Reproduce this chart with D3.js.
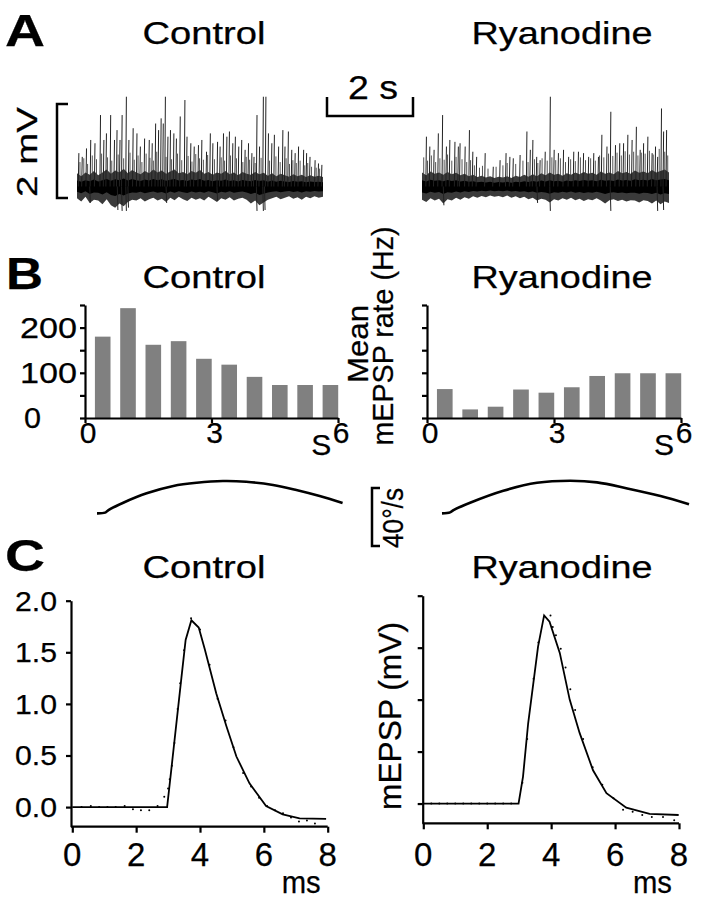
<!DOCTYPE html>
<html><head><meta charset="utf-8">
<script src="https://cdn.jsdelivr.net/npm/d3@7"></script>
<style>
html,body{margin:0;padding:0;background:#fff;}
svg text{font-family:"Liberation Sans",Arial,Helvetica,sans-serif;fill:#000;stroke:#000;stroke-width:0.25px;}
</style></head>
<body><svg id="fig" width="703" height="899"></svg>
<script>
// ---------------- DATA ----------------
// Panel A: spontaneous mEPSP traces (time s, amplitude mV)
const ctrlSpikes = [[0.03,0.71],[0.11,0.63],[0.21,0.81],[0.31,0.99],[0.41,0.92],[0.54,1.52],[0.62,0.99],[0.68,1.13],[0.78,1.52],[0.87,0.99],[0.93,1.20],[1.00,0.99],[1.05,1.52],[1.15,1.91],[1.21,0.99],[1.31,1.24],[1.40,1.13],[1.48,0.85],[1.58,1.02],[1.69,0.99],[1.76,0.92],[1.84,1.34],[1.91,1.20],[1.97,1.45],[2.02,1.34],[2.07,1.91],[2.13,1.06],[2.19,1.20],[2.27,1.13],[2.33,1.02],[2.42,1.49],[2.53,1.84],[2.58,1.06],[2.67,0.92],[2.75,0.85],[2.85,0.88],[2.93,0.99],[3.04,0.74],[3.13,1.13],[3.19,0.92],[3.30,0.95],[3.36,0.85],[3.44,1.13],[3.52,1.06],[3.58,1.17],[3.66,0.92],[3.72,1.06],[3.80,0.85],[3.87,0.99],[3.95,0.78],[4.03,0.92],[4.11,0.71],[4.16,0.63],[4.23,1.52],[4.29,0.85],[4.38,1.91],[4.44,1.91],[4.50,1.13],[4.58,0.92],[4.64,1.10],[4.74,0.85],[4.84,1.20],[4.89,0.85],[4.97,1.17],[5.05,0.78],[5.13,0.71],[5.21,0.85],[5.33,0.78],[5.40,0.71],[5.48,0.63],[5.60,0.56],[5.68,0.49],[5.76,0.46]];
const ctrlSmall = [[0.07,0.52],[0.16,0.60],[0.25,0.48],[0.36,0.66],[0.46,0.58],[0.58,0.70],[0.72,0.62],[0.82,0.55],[0.97,0.68],[1.10,0.60],[1.25,0.72],[1.35,0.57],[1.44,0.66],[1.53,0.52],[1.63,0.70],[1.72,0.61],[1.80,0.55],[1.88,0.74],[2.10,0.63],[2.23,0.58],[2.37,0.70],[2.47,0.56],[2.62,0.65],[2.71,0.53],[2.80,0.69],[2.89,0.60],[2.98,0.57],[3.08,0.67],[3.24,0.58],[3.40,0.62],[3.48,0.55],[3.62,0.66],[3.76,0.60],[3.91,0.52],[3.99,0.63],[4.07,0.57],[4.20,0.50],[4.34,0.61],[4.54,0.55],[4.69,0.64],[4.79,0.52],[4.93,0.60],[5.01,0.48],[5.09,0.56],[5.17,0.50],[5.26,0.55],[5.37,0.45],[5.44,0.50],[5.53,0.42],[5.64,0.40],[5.72,0.38]];
const ctrlDown = [[0.30,-0.35],[0.95,-0.50],[1.05,-0.52],[1.15,-0.52],[1.20,-0.45],[2.10,-0.35],[3.30,-0.30],[4.23,-0.52],[4.38,-0.52],[4.42,-0.50]];
const ryaSpikes = [[0.09,1.06],[0.17,0.85],[0.27,0.78],[0.37,1.13],[0.47,1.52],[0.56,0.85],[0.64,0.99],[0.76,0.95],[0.84,0.85],[0.88,0.92],[1.00,0.85],[1.10,1.20],[1.18,0.74],[1.27,0.63],[1.47,0.71],[1.66,0.42],[1.82,0.56],[1.96,0.71],[2.05,0.63],[2.13,0.60],[2.29,0.67],[2.45,1.17],[2.53,0.78],[2.59,0.99],[2.68,0.63],[2.76,0.56],[2.88,0.74],[3.00,1.91],[3.09,0.78],[3.19,0.71],[3.31,0.78],[3.43,0.63],[3.55,0.74],[3.66,0.74],[3.78,0.71],[3.90,0.63],[4.02,0.71],[4.13,0.63],[4.21,1.10],[4.33,0.85],[4.42,1.59],[4.53,0.88],[4.63,0.92],[4.72,0.92],[4.82,1.10],[4.92,0.99],[5.02,1.27],[5.11,0.78],[5.19,0.92],[5.29,1.06],[5.39,0.71],[5.47,0.85],[5.52,0.63],[5.61,1.66],[5.66,1.17],[5.73,1.20]];
const ryaSmall = [[0.04,0.62],[0.13,0.55],[0.22,0.66],[0.32,0.52],[0.42,0.60],[0.52,0.57],[0.60,0.68],[0.70,0.55],[0.80,0.63],[0.94,0.58],[1.05,0.52],[1.14,0.56],[1.23,0.45],[1.35,0.40],[1.42,0.44],[1.55,0.38],[1.74,0.42],[1.90,0.45],[2.00,0.50],[2.20,0.48],[2.37,0.55],[2.49,0.52],[2.64,0.58],[2.72,0.50],[2.82,0.60],[2.94,0.55],[3.05,0.62],[3.14,0.56],[3.25,0.60],[3.37,0.52],[3.49,0.58],[3.60,0.54],[3.72,0.62],[3.84,0.56],[3.96,0.60],[4.07,0.55],[4.17,0.66],[4.27,0.62],[4.38,0.70],[4.48,0.65],[4.58,0.72],[4.68,0.66],[4.77,0.75],[4.87,0.68],[4.97,0.74],[5.07,0.66],[5.15,0.72],[5.24,0.70],[5.34,0.76],[5.43,0.68],[5.57,0.80],[5.70,0.74],[5.77,0.66]];
const ryaDown = [[0.50,-0.40],[2.70,-0.35],[3.00,-0.52],[4.42,-0.52],[5.52,-0.52],[5.66,-0.50]];
// noise band envelope, sampled every 0.1 s (mV)
const ctrlNoiseHi = [0.28,0.22,0.30,0.25,0.33,0.24,0.30,0.36,0.27,0.34,0.30,0.38,0.28,0.35,0.30,0.26,0.33,0.28,0.36,0.30,0.34,0.27,0.32,0.36,0.28,0.31,0.26,0.33,0.29,0.35,0.27,0.31,0.25,0.30,0.27,0.33,0.26,0.30,0.24,0.31,0.27,0.25,0.31,0.26,0.29,0.23,0.28,0.22,0.27,0.24,0.21,0.26,0.22,0.25,0.20,0.24,0.21,0.23,0.20];
const ctrlNoiseLo = [-0.25,-0.32,-0.22,-0.35,-0.28,-0.30,-0.38,-0.27,-0.40,-0.45,-0.36,-0.42,-0.33,-0.28,-0.30,-0.25,-0.32,-0.27,-0.24,-0.30,-0.26,-0.33,-0.24,-0.29,-0.22,-0.27,-0.31,-0.24,-0.28,-0.25,-0.30,-0.22,-0.27,-0.33,-0.25,-0.28,-0.23,-0.30,-0.26,-0.24,-0.28,-0.36,-0.30,-0.40,-0.34,-0.28,-0.25,-0.22,-0.27,-0.24,-0.21,-0.26,-0.23,-0.28,-0.22,-0.25,-0.21,-0.24,-0.22];
const ryaNoiseHi = [0.30,0.24,0.32,0.27,0.30,0.25,0.31,0.26,0.29,0.24,0.27,0.22,0.25,0.20,0.23,0.19,0.22,0.18,0.21,0.19,0.22,0.18,0.23,0.20,0.25,0.21,0.26,0.22,0.28,0.24,0.30,0.25,0.27,0.23,0.28,0.25,0.30,0.26,0.31,0.27,0.29,0.25,0.32,0.27,0.30,0.26,0.33,0.28,0.31,0.27,0.34,0.29,0.32,0.28,0.35,0.30,0.33,0.36,0.30];
const ryaNoiseLo = [-0.28,-0.33,-0.25,-0.30,-0.26,-0.36,-0.27,-0.30,-0.24,-0.28,-0.23,-0.26,-0.21,-0.24,-0.20,-0.23,-0.19,-0.22,-0.20,-0.23,-0.19,-0.24,-0.21,-0.25,-0.22,-0.27,-0.24,-0.30,-0.26,-0.28,-0.34,-0.27,-0.30,-0.25,-0.28,-0.24,-0.29,-0.26,-0.31,-0.27,-0.29,-0.25,-0.30,-0.36,-0.29,-0.27,-0.31,-0.28,-0.32,-0.29,-0.30,-0.34,-0.29,-0.31,-0.36,-0.30,-0.38,-0.32,-0.35];

// Panel B: mean mEPSP rate (Hz) per bin (bin centre, s)
const binT = [0.42,1.02,1.62,2.22,2.82,3.42,4.02,4.62,5.22,5.82];
const ctrlRate = [180,243,162,170,131,118,91,73,73,73];
const ryaRate = [64,19,25,63,56,68,93,99,99,99];
const rateTicks = [0,50,100,150,200,250];
const rateLabels = [0,100,200];
const timeTicks = [0,3,6];

// Head velocity traces (time s, deg/s)
const ctrlVel = [[0,4.6],[0.19,5.1],[0.27,6.9],[0.62,12.0],[1.17,18.5],[1.80,23.6],[2.35,25.8],[2.97,27.0],[3.52,26.5],[4.15,24.3],[4.70,20.8],[5.25,16.6],[5.79,11.8]];
const ryaVel = [[0,4.6],[0.19,5.3],[0.27,6.9],[0.66,12.0],[1.44,20.3],[2.23,25.8],[3.01,27.2],[3.64,26.1],[4.35,21.9],[5.13,16.6],[5.80,10.9]];

// Panel C: averaged mEPSP (time ms, mV): fit line and data points
const ctrlFit = [[0,0],[2.97,0],[3.10,0.36],[3.42,1.26],[3.55,1.62],[3.73,1.81],[3.96,1.74],[4.15,1.53],[4.51,1.10],[4.83,0.78],[5.14,0.49],[5.55,0.23],[6.07,0.01],[6.59,-0.07],[7.12,-0.11],[7.95,-0.115]];
const ctrlPts = [[0.29,0],[0.58,0.01],[0.84,0],[1.10,0],[1.36,0],[1.64,0.01],[1.90,-0.02],[2.15,-0.03],[2.41,-0.03],[2.67,0.01],[2.88,0.10],[3.00,0.18],[3.05,0.27],[3.12,0.40],[3.20,0.62],[3.30,0.95],[3.38,1.20],[3.50,1.52],[3.72,1.83],[4.00,1.72],[4.30,1.38],[4.55,1.05],[4.80,0.84],[5.05,0.58],[5.35,0.33],[5.60,0.20],[5.85,0.09],[6.10,0.01],[6.35,-0.03],[6.60,-0.06],[6.85,-0.10],[7.10,-0.14],[7.35,-0.13],[7.60,-0.16]];
const ryaFit = [[0,0],[2.98,0],[3.12,0.26],[3.28,0.77],[3.59,1.51],[3.78,1.81],[3.95,1.75],[4.27,1.45],[4.58,1.00],[4.89,0.68],[5.31,0.32],[5.73,0.10],[6.35,-0.04],[7.08,-0.10],[7.99,-0.11]];
const ryaPts = [[0.25,0],[0.50,0],[0.75,0],[1.00,0],[1.25,0],[1.50,0],[1.75,0],[2.00,0],[2.25,0],[2.50,0],[2.75,0],[3.10,0.20],[3.25,0.62],[3.45,1.20],[3.60,1.55],[3.98,1.81],[4.05,1.70],[4.15,1.62],[4.30,1.49],[4.45,1.31],[4.60,1.10],[4.75,0.90],[5.00,0.62],[5.30,0.35],[5.60,0.18],[5.95,0.05],[6.25,-0.06],[6.55,-0.08],[6.85,-0.11],[7.15,-0.13],[7.50,-0.13],[7.85,-0.16]];
const mvTicks = [0,0.5,1,1.5,2];
const msTicks = [0,2,4,6,8];

// ---------------- DRAWING ----------------
const svg = d3.select('#fig');
function T(x,y,str,o={}){
  const t = svg.append('text').attr('x',x).attr('y',y).text(str)
    .attr('font-size',o.size||30).attr('text-anchor',o.anchor||'start')
    .attr('font-weight',o.weight||'normal');
  if(o.rot) t.attr('transform',`rotate(-90,${x},${y})`);
  if(o.w) t.attr('textLength',o.w).attr('lengthAdjust','spacingAndGlyphs');
  return t;
}
function bracket(d){ svg.append('path').attr('d',d).attr('fill','none').attr('stroke','#000').attr('stroke-width',2.5); }

// Panel letters and titles
T(5,46,'A',{size:44,weight:'bold',w:40});
T(6,289,'B',{size:44,weight:'bold',w:37});
T(5,571,'C',{size:44,weight:'bold',w:40});
[44,288,578].forEach(y=>{
  T(204,y,'Control',{size:32,anchor:'middle',w:123});
  T(562,y,'Ryanodine',{size:32,anchor:'middle',w:181});
});

// ---- Panel A traces
const yA = d3.scaleLinear().domain([0,2]).range([186.5,92.5]);
function trace(x0,x1,spikes,small,down,hi,lo){
  const x = d3.scaleLinear().domain([0,5.8]).range([x0,x1]);
  const band = hi.map((v,i)=>({t:i*0.1,hi:v,lo:lo[i]}));
  svg.append('g').selectAll('line').data(small).join('line')
    .attr('x1',d=>x(d[0])).attr('x2',d=>x(d[0]))
    .attr('y1',yA(0)).attr('y2',d=>yA(d[1]))
    .attr('stroke','#555').attr('stroke-width',1);
  svg.append('path').datum(band).attr('fill','#3a3a3a')
    .attr('d',d3.area().x(d=>x(d.t)).y0(d=>yA(d.lo)).y1(d=>yA(d.hi)));
  svg.append('path').datum(band).attr('fill','#000')
    .attr('d',d3.area().x(d=>x(d.t)).y0(d=>yA(d.lo*0.45)).y1(d=>yA(d.hi*0.45)));
  svg.append('g').selectAll('line').data(spikes.concat(down)).join('line')
    .attr('x1',d=>x(d[0])).attr('x2',d=>x(d[0])+0.6)
    .attr('y1',yA(0)).attr('y2',d=>yA(d[1]))
    .attr('stroke','#222').attr('stroke-width',1);
}
trace(77,323,ctrlSpikes,ctrlSmall,ctrlDown,ctrlNoiseHi,ctrlNoiseLo);
trace(422,669,ryaSpikes,ryaSmall,ryaDown,ryaNoiseHi,ryaNoiseLo);
// scale bars
bracket('M68,104 H57 V198 H68');
T(37,152,'2 mV',{size:30,anchor:'middle',rot:true,w:90});
bracket('M327,97 V116 H413 V97');
T(373,99,'2 s',{size:33,anchor:'middle',w:50});

// ---- Panel B bars
const yB = d3.scaleLinear().domain([0,250]).range([418,305]);
function barPanel(x0,x1,vals,withLabels){
  const x = d3.scaleLinear().domain([0,6]).range([x0,x1]);
  const bw = x(0.37)-x(0);
  svg.append('g').selectAll('rect').data(vals).join('rect')
    .attr('x',(d,i)=>x(binT[i])-bw/2).attr('width',bw)
    .attr('y',d=>yB(d)).attr('height',d=>yB(0)-yB(d)).attr('fill','#808080');
  const gy = svg.append('g').attr('transform',`translate(${x0},0)`)
    .call(d3.axisLeft(yB).tickValues(rateTicks).tickSize(5).tickFormat('').tickSizeOuter(0));
  const gx = svg.append('g').attr('transform',`translate(0,${yB(0)})`)
    .call(d3.axisBottom(x).tickValues(timeTicks).tickSize(5).tickFormat('').tickSizeOuter(0));
  [gy,gx].forEach(g=>{g.selectAll('path,line').attr('stroke','#000').attr('stroke-width',2.2);});
  timeTicks.forEach(v=>T(x(v)+3,443,String(v),{size:30,anchor:'middle'}));
  T(x(5.6),455,'S',{size:30,anchor:'middle'});
  if(withLabels) rateLabels.forEach(v=>T(v===0?24:20,yB(v)+10,String(v),{size:29,w:v===0?17:57}));
}
barPanel(85,338,ctrlRate,true);
barPanel(427,681,ryaRate,false);
T(368,344,'Mean',{size:29,anchor:'middle',rot:true,w:78});
T(393,336,'mEPSP rate (Hz)',{size:29,anchor:'middle',rot:true,w:219});

// ---- head velocity arcs
const yV = d3.scaleLinear().domain([0,40]).range([520,462.3]);
function arc(x0,x1,data){
  const x = d3.scaleLinear().domain([0,5.8]).range([x0,x1]);
  svg.append('path').datum(data).attr('fill','none').attr('stroke','#000').attr('stroke-width',2.6)
    .attr('d',d3.line().x(d=>x(d[0])).y(d=>yV(d[1])).curve(d3.curveCatmullRom));
}
arc(97,343,ctrlVel);
arc(442,689,ryaVel);
bracket('M380,488 H372 V546 H380');
T(403,518,'40°/s',{size:29,anchor:'middle',rot:true,w:60});

// ---- Panel C
function epsp(x0,x1,yTop,yBot,axX,fit,pts,withLabels){
  const x = d3.scaleLinear().domain([0,8]).range([x0,x1]);
  const y = d3.scaleLinear().domain([-0.19,2.0]).range([yBot,yTop]);
  const gy = svg.append('g').attr('transform',`translate(${axX},0)`)
    .call(d3.axisLeft(y).tickValues(mvTicks).tickSize(5).tickFormat('').tickSizeOuter(0));
  const gx = svg.append('g').attr('transform',`translate(0,${yBot})`)
    .call(d3.axisBottom(x).tickValues(msTicks).tickSize(6).tickFormat('').tickSizeOuter(0));
  gx.select('path.domain').attr('d',`M${axX},0H${x1}`);
  [gy,gx].forEach(g=>{g.selectAll('path,line').attr('stroke','#000').attr('stroke-width',2.2);});
  svg.append('path').datum(fit).attr('fill','none').attr('stroke','#000').attr('stroke-width',1.8)
    .attr('d',d3.line().x(d=>x(d[0])).y(d=>y(d[1])));
  svg.append('g').selectAll('circle').data(pts).join('circle')
    .attr('cx',d=>x(d[0])).attr('cy',d=>y(d[1])).attr('r',1).attr('fill','#000');
  msTicks.forEach(v=>T(x(v),866,String(v),{size:33,anchor:'middle'}));
  T(x1-7,893,'ms',{size:31,anchor:'end',w:39});
  if(withLabels) mvTicks.forEach(v=>T(57,y(v)+10,v.toFixed(1),{size:28,anchor:'end',w:42}));
}
epsp(72.3,327.7,600.7,826.7,71,ctrlFit,ctrlPts,true);
epsp(423.3,679,595.7,823.3,422.7,ryaFit,ryaPts,false);
T(401,716,'mEPSP (mV)',{size:31,anchor:'middle',rot:true,w:188});
</script></body></html>
